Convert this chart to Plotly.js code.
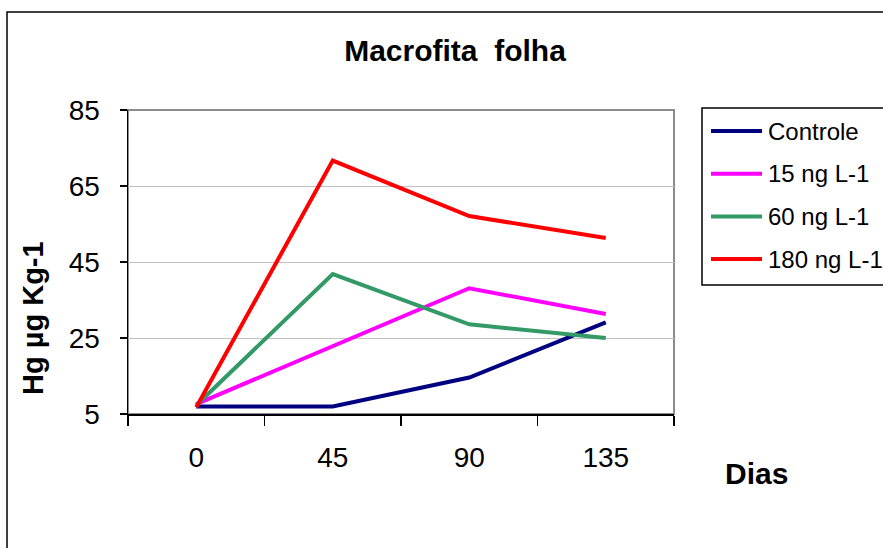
<!DOCTYPE html>
<html>
<head>
<meta charset="utf-8">
<script src="https://cdn.plot.ly/plotly-3.0.1.min.js"></script>
<style>html,body{margin:0;padding:0;background:#fff;}#chart{width:883px;height:548px;}</style>
</head>
<body>
<div id="chart"></div>
<script>
// ---- data ----
var dias = ["0", "45", "90", "135"];
var seriesNames = ["Controle", "15 ng L-1", "60 ng L-1", "180 ng L-1"];
var controle = [7.0, 7.0, 14.6, 29.1];
var ng15 = [7.6, 22.8, 38.1, 31.3];
var ng60 = [7.3, 41.8, 28.6, 25.0];
var ng180 = [6.8, 71.7, 57.1, 51.3];
var colors = ["#000080", "#FF00FF", "#339966", "#FF0000"];
var yTicks = [5, 25, 45, 65, 85];

var W = 883, H = 548;
var L = 128, R = 209, T = 110, B = 134;
var pw = W - L - R, ph = H - T - B;
function px(x) { return (x - L) / pw; }
function py(y) { return (H - B - y) / ph; }

var allSeries = [controle, ng15, ng60, ng180];
var traces = allSeries.map(function (vals, i) {
  return {
    x: dias, y: vals, type: "scatter", mode: "lines", name: seriesNames[i],
    line: { color: colors[i], width: 4 }, showlegend: false, hoverinfo: "x+y+name"
  };
});

var font = "Liberation Sans, Arial, sans-serif";
var shapes = [
  // outer chart border
  { type: "rect", xref: "paper", yref: "paper", x0: px(7), x1: px(900), y0: py(12), y1: py(570),
    line: { color: "#000", width: 1.5 }, fillcolor: "rgba(0,0,0,0)", layer: "below" },
  // plot area border
  { type: "rect", xref: "paper", yref: "paper", x0: 0, x1: 1, y0: 0, y1: 1,
    line: { color: "#8c8c8c", width: 2 }, fillcolor: "rgba(0,0,0,0)", layer: "below" },
  // legend box
  { type: "rect", xref: "paper", yref: "paper", x0: px(702), x1: px(900), y0: py(108), y1: py(285),
    line: { color: "#000", width: 1.5 }, fillcolor: "#fff" }
];
var annotations = [
  { text: "<b>Dias</b>", xref: "paper", yref: "paper", x: px(756), y: py(473), xanchor: "center", yanchor: "middle",
    showarrow: false, font: { family: font, size: 30, color: "#000" } },
  { text: "<b>Hg µg Kg-1</b>", xref: "paper", yref: "paper", x: px(33), y: py(318), xanchor: "center", yanchor: "middle",
    textangle: -90, showarrow: false, font: { family: font, size: 29, color: "#000" } }
];
seriesNames.forEach(function (n, i) {
  var yc = 131 + i * 42.7;
  shapes.push({ type: "line", xref: "paper", yref: "paper", x0: px(711), x1: px(762), y0: py(yc), y1: py(yc),
    line: { color: colors[i], width: 4 } });
  annotations.push({ text: n, xref: "paper", yref: "paper", x: px(766), y: py(yc), xanchor: "left", yanchor: "middle",
    showarrow: false, font: { family: font, size: 24, color: "#000" } });
});

var layout = {
  width: W, height: H,
  margin: { l: L, r: R, t: T, b: B, pad: 0 },
  paper_bgcolor: "#fff", plot_bgcolor: "#fff",
  title: { text: "<b>Macrofita\u00a0 folha</b>", x: 455 / W, xanchor: "center", xref: "container",
    y: 1 - 50 / H, yanchor: "middle", yref: "container", font: { family: font, size: 30, color: "#000" } },
  xaxis: {
    type: "category", categoryorder: "array", categoryarray: dias, range: [-0.5, 3.5],
    tickson: "boundaries", ticks: "outside", ticklen: 10, tickwidth: 1.5, tickcolor: "#000",
    showline: true, linecolor: "#000", linewidth: 1.5, showgrid: false, zeroline: false,
    tickfont: { family: font, size: 28, color: "#000" }, ticklabelstandoff: 18, fixedrange: true
  },
  yaxis: {
    range: [5, 85], tickvals: yTicks, ticktext: yTicks.map(String),
    ticks: "outside", ticklen: 7, tickwidth: 1.5, tickcolor: "#000",
    showline: true, linecolor: "#000", linewidth: 1.5,
    showgrid: true, gridcolor: "#c0c0c0", gridwidth: 1, zeroline: false,
    tickfont: { family: font, size: 28, color: "#000" }, ticklabelstandoff: 14, fixedrange: true
  },
  shapes: shapes,
  annotations: annotations,
  showlegend: false
};

Plotly.newPlot("chart", traces, layout, { displayModeBar: false, staticPlot: true });
</script>
</body>
</html>
